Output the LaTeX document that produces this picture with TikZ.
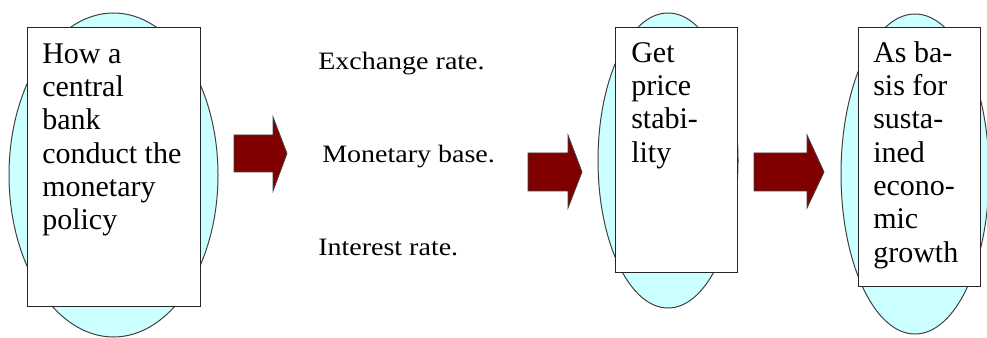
\documentclass[tikz,border=0pt]{standalone}
\usepackage{fontspec}
\setmainfont{Liberation Serif}
\definecolor{ellfill}{HTML}{CCFFFF}
\definecolor{ellline}{HTML}{404040}
\definecolor{arrfill}{HTML}{800000}
\begin{document}
\begin{tikzpicture}[x=0.75pt,y=-0.75pt,
  ell/.style={fill=ellfill,draw=ellline,line width=0.75pt},
  boxrect/.style={fill=white,draw=black!85,line width=0.9pt},
  boxtext/.style={inner sep=0pt,anchor=north west,align=left,font=\fontsize{22.5pt}{25pt}\selectfont},
  midtext/.style={inner sep=0pt,anchor=base west,font=\fontsize{18.75pt}{22pt}\selectfont},
  blockarrow/.style={fill=arrfill,draw=ellline,line width=0.6pt,line join=miter}]
\useasboundingbox (0,0) rectangle (987,338);
\begin{scope}
\clip (0,0) rectangle (987,338);
% ellipses
\path[ell] (113.5,175) ellipse [x radius=104.5, y radius=162];
\path[ell] (668,160.5) ellipse [x radius=70, y radius=147.5];
\path[ell] (915,174) ellipse [x radius=74, y radius=160];
\end{scope}
% rectangles
\node[boxrect,inner sep=0pt,minimum width=173*0.75pt,minimum height=279*0.75pt,anchor=north west] (b1) at (27,27) {};
\node[boxrect,inner sep=0pt,minimum width=122*0.75pt,minimum height=245*0.75pt,anchor=north west] (b2) at (615,27) {};
\node[boxrect,inner sep=0pt,minimum width=122*0.75pt,minimum height=259*0.75pt,anchor=north west] (b3) at (858,27) {};
% box texts
\node[boxtext] (t1) at (42,42) {\rule{0pt}{15.75pt}How a\\central\\bank\\conduct the\\monetary\\policy};
\node[boxtext] (t2) at (631,41) {\rule{0pt}{15.75pt}Get\\price\\stabi-\\lity};
\node[boxtext] (t3) at (873,41) {\rule{0pt}{15.75pt}As ba-\\sis for\\susta-\\ined\\econo-\\mic\\growth};
% middle texts
\node[midtext] (m1) at (318,70) {\scalebox{1.12}[1]{Exchange rate.}};
\node[midtext] (m2) at (322,163) {\scalebox{1.12}[1]{Monetary base.}};
\node[midtext] (m3) at (318,255) {\scalebox{1.12}[1]{Interest rate.}};
% block arrows
\path[blockarrow] (234,135) -- (273,135) -- (273,117) -- (287,153.5) -- (273,191) -- (273,172) -- (234,172) -- cycle;
\path[blockarrow] (528,153) -- (568,153) -- (568,135) -- (582,172) -- (568,208) -- (568,191) -- (528,191) -- cycle;
\path[blockarrow] (754,153) -- (807,153) -- (807,135) -- (824,172) -- (807,208) -- (807,191) -- (754,191) -- cycle;
\end{tikzpicture}
\end{document}
